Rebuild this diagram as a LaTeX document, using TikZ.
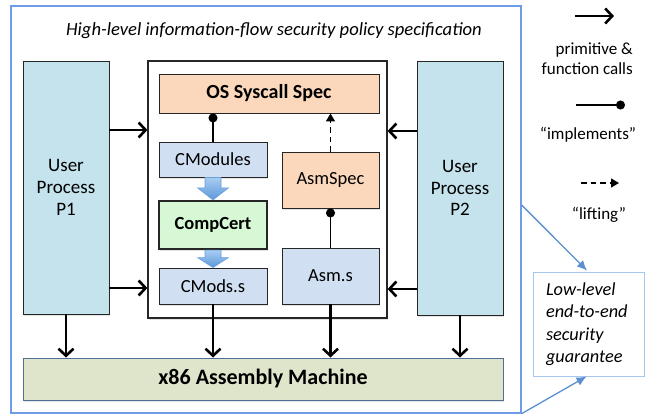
\documentclass[tikz,border=0pt]{standalone}
\usepackage{fontspec}
\setmainfont{Carlito}
\usetikzlibrary{arrows.meta,calc,shadows}
\definecolor{userfill}{HTML}{C5E3EC}
\definecolor{peach}{HTML}{FBD8BC}
\definecolor{lblue}{HTML}{D0DFF1}
\definecolor{lgreen}{HTML}{D6F8D4}
\definecolor{olive}{HTML}{DFE5CB}
\definecolor{oliveb}{HTML}{4F6F98}
\definecolor{framec}{HTML}{6F9CE6}
\definecolor{conc}{HTML}{5B8FD0}
\definecolor{lowc}{HTML}{A7C8EC}
\definecolor{arrtop}{HTML}{A9CDF3}
\definecolor{arrbot}{HTML}{5B97D8}
\definecolor{arredge}{HTML}{6A9FD8}
\newcommand\blkarrow[3]{%
  \path[blockarr] ($(#1.south)+(-8,0)$) -- ($(#2.north)+(-8,-#3)$) -- ($(#2.north)+(-15.5,-#3)$)
   -- (#2.north) -- ($(#2.north)+(15.5,-#3)$) -- ($(#2.north)+(8,-#3)$) -- ($(#1.south)+(8,0)$) -- cycle;}
\begin{document}
\begin{tikzpicture}[x=1pt,y=-1pt,
  every node/.style={inner sep=0pt, font=\fontsize{18.5}{21.5}\selectfont},
  shad/.style={drop shadow={shadow xshift=1.2pt,shadow yshift=-1.5pt,opacity=.22}},
  box/.style={draw=black!85, line width=0.9pt, shad},
  userbox/.style={box, fill=userfill, align=center, font=\fontsize{19}{21.7}\selectfont},
  peachbox/.style={box, fill=peach},
  bluebox/.style={box, fill=lblue},
  frame/.style={draw=framec, line width=1.3pt},
  call/.style={line width=2.6pt, -{Straight Barb[length=7pt,width=15pt]}},
  impl/.style={line width=1.2pt, -{Circle[length=9pt]}},
  lift/.style={line width=1.3pt, dash pattern=on 5.5pt off 4pt, -{Triangle[length=8pt,width=9pt]}},
  blockarr/.style={top color=arrtop, bottom color=arrbot, draw=arredge, line width=0.6pt},
  bluecon/.style={draw=conc, line width=1.3pt, -{Latex[length=10pt,width=9pt]}},
  legtext/.style={font=\fontsize{17}{20}\selectfont}
]
\useasboundingbox (0,0) rectangle (648,417);
% outer frame
\node[frame, minimum width=510, minimum height=407] (F) at (266,209.5) {};
\node[font=\fontsize{18.6}{21.5}\selectfont\itshape] (T) at (274,31) {High-level information-flow security policy specification};
% user processes
\node[userbox, minimum width=86, minimum height=253] (P1) at (66,187.5) {User\\Process\\P1};
\node[userbox, minimum width=86, minimum height=254] (P2) at (460,188) {User\\Process\\P2};
% central box
\node[box, fill=white, line width=1.2pt, minimum width=239, minimum height=257] (C) at (267.5,189.5) {};
\node[peachbox, minimum width=220, minimum height=39, font=\fontsize{20}{22}\selectfont\bfseries] (OS) at (269,93.5) {OS Syscall Spec};
\node[bluebox, minimum width=108, minimum height=35] (CM) at (213,159.5) {CModules};
\node[peachbox, minimum width=97, minimum height=56] (AS) at (330.5,180) {AsmSpec};
\node[box, fill=lgreen, line width=2.2pt, minimum width=108, minimum height=48, font=\fontsize{18.5}{21.5}\selectfont\bfseries] (CC) at (213,225) {CompCert};
\node[bluebox, minimum width=108, minimum height=36] (CS) at (213,286) {CMods.s};
\node[bluebox, minimum width=97, minimum height=56] (AM) at (330.5,276) {Asm.s};
% machine
\node[draw=oliveb, line width=1pt, fill=olive, shad, minimum width=480, minimum height=42, font=\fontsize{22}{24}\selectfont\bfseries] (X) at (263,379) {x86 Assembly Machine};
% low-level box
\node[draw=lowc, line width=1pt, fill=white, minimum width=111, minimum height=104, text width=85pt, align=left, font=\fontsize{18.3}{22.5}\selectfont\itshape] (L) at (588.5,324) {Low-level\\end-to-end\\security\\guarantee};
% block arrows
\blkarrow{CM}{CC}{12}
\blkarrow{CC}{CS}{10}
% implements / lifting
\draw[impl] (CM.north) -- (CM.north |- OS.south);
\draw[impl] (AM.north -| AS.south) -- (AS.south);
\draw[lift] (AS.north) -- (AS.north |- OS.south);
% calls
\draw[call] (P1.east |- 0,130) -- (C.west |- 0,130);
\draw[call] (P1.east |- 0,288) -- (C.west |- 0,288);
\draw[call] (P2.west |- 0,131) -- (C.east |- 0,131);
\draw[call] (P2.west |- 0,289) -- (C.east |- 0,289);
\draw[call] (P1.south) -- (P1.south |- X.north);
\draw[call] (CS.south) -- (CS.south |- X.north);
\draw[call] (AM.south) -- (AM.south |- X.north);
\draw[call] (P2.south) -- (P2.south |- X.north);
% blue connectors
\draw[bluecon] (F.east |- 0,205) -- ($(L.north)+(-1.5,-1)$);
\draw[bluecon] (F.south east) -- ($(L.south)+(-2,0)$);
% legend
\coordinate (a1) at (575,16); \coordinate (a2) at (614,16);
\draw[call] (a1) -- (a2);
\node[legtext, align=right, anchor=east] (lt1) at (633,58.5) {primitive \&\\function calls};
\coordinate (b1) at (576,105); \coordinate (b2) at (625,105);
\draw[impl] (b1) -- (b2);
\node[legtext] (lt2) at (588,135) {“implements”};
\coordinate (c1) at (581,183); \coordinate (c2) at (619,183);
\draw[lift] (c1) -- (c2);
\node[legtext] (lt3) at (599,215) {“lifting”};
\end{tikzpicture}
\end{document}
